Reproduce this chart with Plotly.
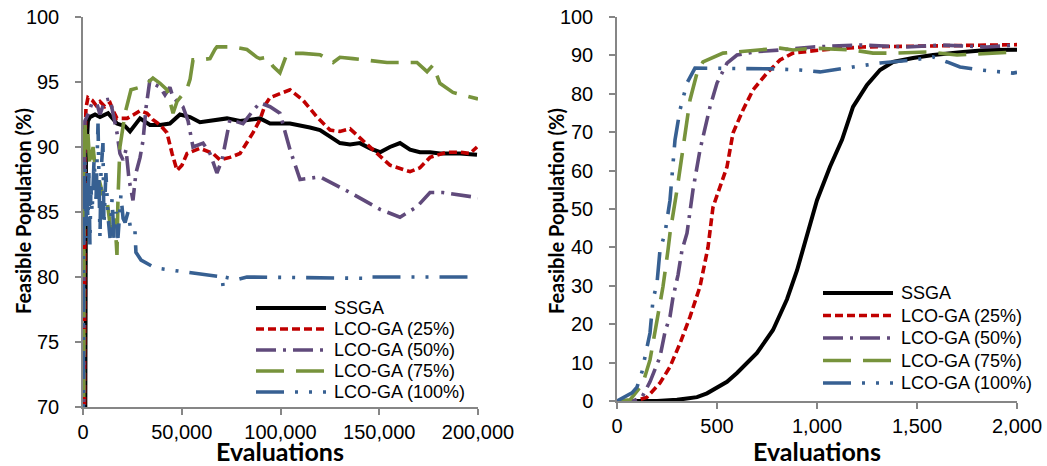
import plotly.graph_objects as go

W, H = 1047, 466

names = ["SSGA", "LCO-GA (25%)", "LCO-GA (50%)", "LCO-GA (75%)", "LCO-GA (100%)"]
colors = ["#000000", "#C00000", "#604A7B", "#77933C", "#376092"]
dashes = ["solid", "8px,4px", "20px,7px,3px,7px", "28px,12px", "28px,11px,3px,11px,3px,11px"]
widths = [4, 3.6, 3.6, 3.6, 3.6]

x_title = "Evaluations"
y_title = "Feasible Population (%)"

# ---------- Left panel: 0 .. 200,000 evaluations ----------
l_ssga_x = [0, 1000, 1500, 2500, 3500, 6100, 8600, 12700, 15200, 17200, 21300, 23800, 28900, 33900, 39000,
            44000, 49100, 54200, 59200, 66800, 72900, 79500, 86100, 89600, 94700, 104800, 114900, 120000,
            125100, 130100, 135200, 140200, 145300, 150400, 155400, 160500, 165600, 170600, 175700, 180700,
            190900, 199500]
l_ssga_y = [0, 52, 89, 92, 92.3, 92.5, 92.3, 92.6, 92.2, 91.8, 91.6, 91.2, 92.2, 91.7, 91.7,
            91.8, 92.5, 92.3, 91.9, 92.1, 92.2, 92.0, 92.1, 92.2, 91.8, 91.8, 91.5, 91.3,
            90.8, 90.3, 90.2, 90.3, 89.9, 89.6, 90.0, 90.3, 89.8, 89.6, 89.6, 89.5,
            89.5, 89.4]

l_r25_x = [0, 500, 1000, 1500, 2500, 4600, 6600, 8600, 11100, 13700, 15200, 17200, 22300, 25800, 28900,
           32400, 35400, 39000, 42500, 45100, 47600, 50100, 52700, 59200, 62800, 65800, 69400, 74400,
           79500, 86100, 89600, 92100, 94700, 99700, 104800, 111400, 118500, 125100, 130100, 135200,
           140200, 146800, 155400, 165600, 170600, 175700, 184300, 190900, 195900, 199500]
l_r25_y = [0, 60, 90, 93.0, 93.8, 93.6, 93.2, 93.5, 93.1, 93.4, 92.8, 92.2, 92.2, 92.5, 92.8,
           92.6, 92.1, 91.7, 91.1, 89.5, 88.2, 88.6, 89.5, 89.9, 89.7, 89.5, 89.0, 89.2,
           89.5, 91.1, 92.1, 93.2, 93.8, 94.1, 94.4, 93.6, 92.3, 91.3, 91.2, 91.4,
           90.7, 89.8, 88.6, 88.1, 88.4, 89.2, 89.6, 89.6, 89.5, 90.0]

l_r50_x = [0, 500, 1000, 2500, 4600, 7100, 8600, 11100, 13700, 15200, 17200, 18700, 20300, 21800, 23300,
           25300, 26800, 28900, 30400, 31900, 33900, 36500, 39000, 41500, 44000, 45600, 50600, 53200,
           55700, 60800, 64300, 67800, 70400, 74400, 81000, 86100, 89600, 94700, 99700, 104800, 109900,
           120000, 135200, 150400, 160500, 169100, 175700, 182300, 197500, 200000]
l_r50_y = [0, 85, 92, 92.5, 93.4, 93.3, 92.5, 93.6, 93.7, 92.5, 91.1, 89.5, 89.0, 89.8, 87.5,
           85.9, 88, 89.2, 90.5, 93, 95.2, 94.8, 94.6, 94.0, 94.6, 93.8, 93.1, 92,
           90, 90.3, 89.5, 88, 89, 92.1, 91.8, 92.8, 93.4, 93.1, 92.6, 89.8, 87.5,
           87.7, 86.5, 85.2, 84.6, 85.4, 86.5, 86.5, 86.2, 86.1]

l_r75_x = [0, 300, 500, 1000, 1500, 2500, 3500, 5100, 7100, 8600, 10600, 12200, 13700, 15200, 15700,
           16700, 17200, 17700, 18700, 19700, 21300, 22800, 24300, 28900, 32400, 35400, 39000, 42500,
           44000, 45600, 47600, 49100, 52700, 54200, 55700, 59200, 64300, 66800, 67800, 75900, 83000,
           88100, 89600, 93200, 96200, 99700, 103300, 111400, 120000, 126600, 130100, 136700, 153900,
           169100, 174200, 177200, 180700, 187300, 196900, 200000]
l_r75_y = [0, 80, 90.5, 92, 89.8, 91, 88.5, 90, 87, 87.2, 86, 85.9, 84, 82.8, 84.5,
           83, 81.7, 86, 90, 91, 92.6, 93.5, 94.4, 94.6, 94.9, 95.3, 94.9, 94.4,
           93.5, 92.6, 93.5, 93.8, 94.5, 95.2, 96.7, 96.7, 96.8, 97.5, 97.7, 97.7, 97.5,
           96.9, 96.8, 96.9, 96.2, 95.7, 97.2, 97.2, 97.1, 96.5, 96.9, 96.8, 96.5,
           96.5, 95.8, 96.3, 94.9, 94.2, 93.8, 93.7]

l_r100_x = [0, 300, 500, 1000, 1500, 2000, 2500, 3000, 3500, 4000, 4600, 5600, 6600, 7600, 8100,
            8600, 9100, 10100, 10600, 11600, 12700, 13700, 14700, 15700, 16700, 17700, 19200, 20300,
            21300, 22800, 24300, 26300, 26800, 29400, 36500, 46000, 55700, 62800, 70400, 70900, 71400,
            78000, 83000, 141500, 142000, 200000]
l_r100_y = [0, 86, 85, 89, 83, 88, 84, 88, 82.5, 87, 85, 89, 86, 91.8, 86,
            83, 88, 90.3, 84, 88, 84.6, 83, 86, 83, 85, 83, 86.3, 84.5,
            84.2, 85, 83.5, 83.6, 81.9, 81.3, 80.7, 80.5, 80.3, 80.1, 80, 79.3, 80,
            79.8, 80, 79.9, 80, 80]

# ---------- Right panel: 0 .. 2,000 evaluations ----------
r_ssga_x = [0, 200, 300, 400, 450, 500, 550, 600, 650, 700, 780, 850, 900, 950, 1000, 1065, 1125, 1180,
            1250, 1315, 1380, 1480, 1580, 1730, 1850, 2000]
r_ssga_y = [0, 0, 0.3, 1.0, 2.0, 3.4, 5.0, 7.3, 10, 12.5, 18.5, 26.5, 34, 43, 52.3, 61, 68, 76.6,
            82.3, 86.2, 88.3, 89.3, 90.1, 90.9, 91.4, 91.5]

r_r25_x = [0, 90, 150, 215, 265, 315, 365, 415, 455, 480, 550, 580, 630, 680, 750, 815, 880, 1015,
           1230, 1480, 1730, 2000]
r_r25_y = [0, 0, 1.0, 4.7, 8.9, 15, 21.9, 29.8, 40, 50.5, 61, 69.8, 75.8, 81, 85.4, 88.8, 90.6, 91.4,
           92.2, 92.4, 92.7, 92.8]

r_r50_x = [0, 80, 125, 165, 215, 240, 265, 280, 305, 325, 350, 380, 415, 465, 500, 550, 600, 700, 815,
           980, 1215, 1450, 1615, 1850, 2000]
r_r50_y = [0, 0, 1, 5, 11.5, 18, 22, 27, 32.8, 39.3, 43.7, 55, 65.4, 76.6, 82.8, 88, 90.1, 91, 91.4,
           92.2, 92.7, 92.2, 92.7, 92.2, 92.7]

r_r75_x = [0, 65, 105, 130, 165, 205, 230, 255, 265, 300, 330, 365, 400, 430, 530, 650, 815, 880, 980,
           1180, 1280, 1400, 1560, 1700, 1900, 2000]
r_r75_y = [0, 0.3, 2.9, 4.7, 10.7, 22, 29.8, 39.3, 43.7, 55, 66, 78.4, 85.4, 88.3, 90.6, 91.1, 91.9,
           91.4, 91.9, 91.4, 90.6, 90.6, 90.9, 90.1, 90.6, 90.9]

r_r100_x = [0, 30, 75, 100, 125, 140, 165, 180, 200, 215, 240, 265, 290, 315, 350, 390, 465, 615, 780,
            915, 1015, 1180, 1315, 1480, 1580, 1650, 1715, 1815, 1980, 2000]
r_r100_y = [0, 0.8, 2.1, 3.6, 7.6, 11.5, 17.7, 26.3, 30.7, 39.3, 43.7, 52.3, 68, 75.8, 82.8, 86.7,
            86.7, 86.7, 86.5, 86.2, 85.7, 87, 88, 88.8, 89.6, 88.3, 87, 86.2, 85.4, 85.6]

left_x = [l_ssga_x, l_r25_x, l_r50_x, l_r75_x, l_r100_x]
left_y = [l_ssga_y, l_r25_y, l_r50_y, l_r75_y, l_r100_y]
right_x = [r_ssga_x, r_r25_x, r_r50_x, r_r75_x, r_r100_x]
right_y = [r_ssga_y, r_r25_y, r_r50_y, r_r75_y, r_r100_y]

left_yticks = [70, 75, 80, 85, 90, 95, 100]
left_xticks = [0, 50000, 100000, 150000, 200000]
right_yticks = [0, 10, 20, 30, 40, 50, 60, 70, 80, 90, 100]
right_xticks = [0, 500, 1000, 1500, 2000]

fig = go.Figure()
for i in range(5):
    fig.add_trace(go.Scatter(x=left_x[i], y=left_y[i], mode="lines", name=names[i], showlegend=False,
                             line=dict(color=colors[i], width=widths[i], dash=dashes[i]),
                             xaxis="x", yaxis="y"))
for i in range(5):
    fig.add_trace(go.Scatter(x=right_x[i], y=right_y[i], mode="lines", name=names[i], showlegend=False,
                             line=dict(color=colors[i], width=widths[i], dash=dashes[i]),
                             xaxis="x2", yaxis="y2"))

# ---------- Legends (Excel-style long key lines) ----------
legend_font = dict(family="Liberation Sans, Arial, sans-serif", size=18, color="#000000")
legend_specs = [
    # (line x0, line x1, text x, first row y, row step) in pixels
    (256, 326, 332, 308, 21),
    (823, 893, 899, 293, 22.5),
]
for (lx0, lx1, tx, ry0, step) in legend_specs:
    for i in range(5):
        yy = ry0 + i * step
        fig.add_shape(type="line", xref="paper", yref="paper",
                      x0=lx0 / W, x1=lx1 / W, y0=1 - yy / H, y1=1 - yy / H,
                      line=dict(color=colors[i], width=widths[i], dash=dashes[i]))
        fig.add_annotation(xref="paper", yref="paper", x=tx / W, y=1 - yy / H, text=names[i],
                           showarrow=False, xanchor="left", yanchor="middle", font=legend_font)

# ---------- Axis titles ----------
xtitle_font = dict(family="Lato, Calibri, sans-serif", size=25, color="#000000", weight="bold")
ytitle_font = dict(family="Lato, Calibri, sans-serif", size=20, color="#000000", weight="bold")
for (cx, cy) in [(280, 451), (817, 451)]:
    fig.add_annotation(xref="paper", yref="paper", x=cx / W, y=1 - cy / H, text=x_title, borderpad=0,
                       showarrow=False, xanchor="center", yanchor="middle", font=xtitle_font)
for (cx, cy) in [(23, 211), (556, 211)]:
    fig.add_annotation(xref="paper", yref="paper", x=cx / W, y=1 - cy / H, text=y_title, textangle=-90,
                       showarrow=False, xanchor="center", yanchor="middle", font=ytitle_font)

tick_font = dict(family="Liberation Sans, Arial, sans-serif", size=20, color="#000000")
axis_common = dict(showgrid=False, zeroline=False, showline=True, linecolor="#868686", linewidth=1.5,
                   ticks="outside", ticklen=6, tickcolor="#868686", tickwidth=1.5, automargin=False,
                   tickfont=tick_font)

fig.update_layout(
    width=W, height=H,
    margin=dict(l=0, r=0, t=0, b=0, autoexpand=False),
    paper_bgcolor="white", plot_bgcolor="white",
    xaxis=dict(domain=[83 / W, 478 / W], range=[0, 200000], tickvals=left_xticks, tickformat=",d",
               anchor="y", **axis_common),
    yaxis=dict(domain=[(H - 407) / H, (H - 17) / H], range=[70, 100], tickvals=left_yticks,
               anchor="x", ticklabelstandoff=12, **axis_common),
    xaxis2=dict(domain=[617 / W, 1017 / W], range=[0, 2000], tickvals=right_xticks, tickformat=",d",
                anchor="y2", **axis_common),
    yaxis2=dict(domain=[(H - 401) / H, (H - 17) / H], range=[0, 100], tickvals=right_yticks,
                anchor="x2", ticklabelstandoff=12, **axis_common),
    showlegend=False,
)

fig.write_html("out.html", config={"displayModeBar": False},
               post_script="document.body.style.margin='0';document.body.style.overflow='hidden';")
